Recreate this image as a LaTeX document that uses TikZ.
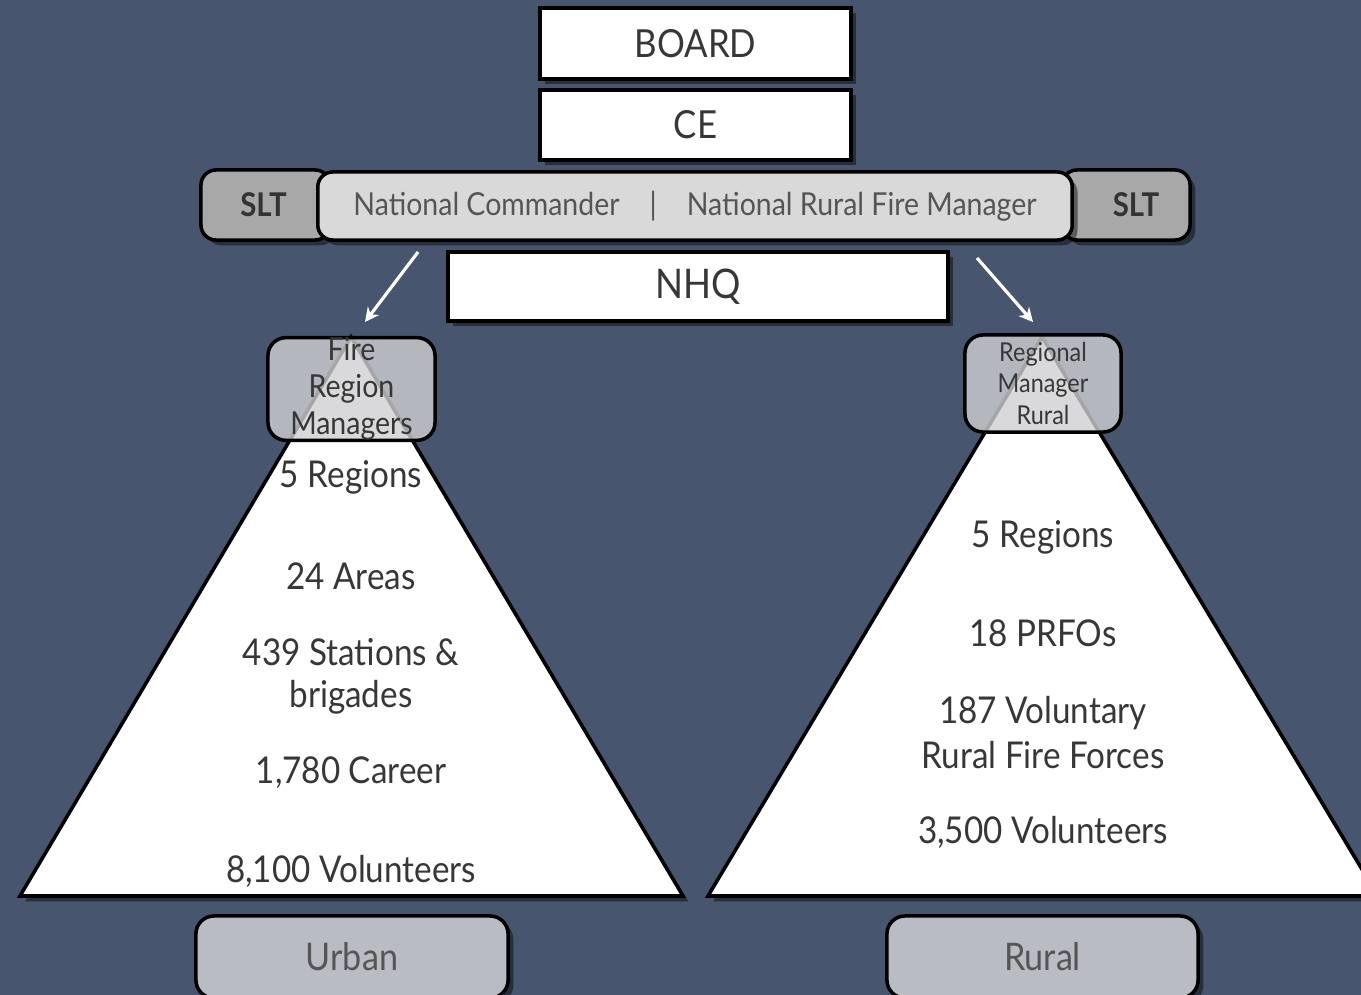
\documentclass[tikz,border=0pt]{standalone}
\usepackage{fontspec}
\setmainfont{Lato}[FakeStretch=0.9]
\usetikzlibrary{arrows.meta,shadows}
\definecolor{bg}{RGB}{71,86,110}
\definecolor{txt}{RGB}{55,55,55}
\definecolor{midtxt}{RGB}{85,85,85}
\definecolor{sltgray}{RGB}{168,168,168}
\definecolor{barlight}{RGB}{217,217,217}
\definecolor{mgrfill}{RGB}{208,208,210}
\definecolor{urbfill}{RGB}{185,188,194}
\tikzset{
  shad/.style={drop shadow={shadow xshift=1.5pt,shadow yshift=-1.5pt,opacity=0.45,fill=black}},
  whitebox/.style={draw=black,line width=1pt,fill=white,inner sep=0pt,text=txt,
    font=\fontsize{11}{13}\selectfont,shad},
  barbox/.style={draw=black,line width=1pt,rounded corners=0.15cm,inner sep=0pt,shad},
  mgrbox/.style={draw=black,line width=1pt,rounded corners=0.18cm,fill=mgrfill,fill opacity=0.8,
    text opacity=1,inner sep=0pt,align=center,text=txt},
  basebox/.style={draw=black,line width=1pt,rounded corners=0.18cm,fill=urbfill,inner sep=0pt,
    text=midtxt,font=\fontsize{10.8}{12}\selectfont,shad},
  tri/.style={draw=black,line width=1pt,fill=white,shad},
  tritext/.style={text=txt,font=\fontsize{10.5}{12}\selectfont,inner sep=0pt},
  arr/.style={draw=white,line width=0.9pt,-{Stealth[length=4pt,width=4pt]}}
}
\begin{document}
\begin{tikzpicture}[x=0.01cm,y=-0.01cm]
\fill[bg] (0,0) rectangle (1361,995);
\useasboundingbox (0,0) rectangle (1361,995);

% top boxes
\node[whitebox,minimum width=3.11cm,minimum height=0.71cm] (board) at (695.5,43.5) {BOARD};
\node[whitebox,minimum width=3.11cm,minimum height=0.70cm] (ce) at (695.5,125) {CE};

% SLT bar
\node[barbox,fill=sltgray,minimum width=1.29cm,minimum height=0.70cm,
  font=\bfseries\fontsize{9.3}{11}\selectfont,text=black!80] (sltl) at (265.5,205) {SLT\hspace*{0.04cm}};
\node[barbox,fill=sltgray,minimum width=1.28cm,minimum height=0.70cm,
  font=\bfseries\fontsize{9.3}{11}\selectfont,text=black!80] (sltr) at (1126,205) {\hspace*{0.2cm}SLT};
\node[barbox,fill=barlight,minimum width=7.54cm,minimum height=0.68cm,
  font=\fontsize{9}{11}\selectfont,text=midtxt] (nat) at (695,206)
  {National Commander\hspace{0.3cm}|\hspace{0.3cm}National Rural Fire Manager};

% NHQ
\node[whitebox,minimum width=5.0cm,minimum height=0.69cm,font=\fontsize{11.6}{13}\selectfont] (nhq) at (698,286.5) {NHQ};

% triangles
\coordinate (lapex) at (351,337);
\coordinate (lbl) at (20,896);
\coordinate (lbr) at (683,896);
\coordinate (rapex) at (1042,337);
\coordinate (rbl) at (708,896);
\coordinate (rbr) at (1378,896);
\path[tri] (lapex) -- (lbr) -- (lbl) -- cycle;
\path[tri] (rapex) -- (rbr) -- (rbl) -- cycle;

% manager boxes
\node[mgrbox,minimum width=1.67cm,minimum height=1.02cm,
  font=\fontsize{9}{10.5}\selectfont] (frm) at (351.5,389) {Fire\\Region\\Managers};
\node[mgrbox,minimum width=1.56cm,minimum height=0.97cm,
  font=\fontsize{7.4}{8.9}\selectfont] (rmr) at (1043,383.5) {Regional\\Manager\\Rural};

% arrows
\coordinate (a1s) at (418,252);
\coordinate (a1e) at (365,322);
\coordinate (a2s) at (977,258);
\coordinate (a2e) at (1033,322);
\draw[arr] (a1s) -- (a1e);
\draw[arr] (a2s) -- (a2e);

% left triangle texts
\node[tritext] (l1) at (351,477) {5 Regions};
\node[tritext] (l2) at (351,576) {24 Areas};
\node[tritext] (l3) at (351,652) {439 Stations \&};
\node[tritext] (l4) at (351,697) {brigades};
\node[tritext] (l5) at (351,773) {1,780 Career};
\node[tritext] (l6) at (351,871) {8,100 Volunteers};

% right triangle texts
\node[tritext] (r1) at (1043,537) {5 Regions};
\node[tritext] (r2) at (1043,633) {18 PRFOs};
\node[tritext] (r3) at (1043,713) {187 Voluntary};
\node[tritext] (r4) at (1043,755) {Rural Fire Forces};
\node[tritext] (r5) at (1043,832) {3,500 Volunteers};

% bottom boxes
\node[basebox,minimum width=3.12cm,minimum height=0.82cm] (urban) at (352,957) {Urban};
\node[basebox,minimum width=3.11cm,minimum height=0.82cm] (rural) at (1042.5,957) {Rural};
\end{tikzpicture}
\end{document}
